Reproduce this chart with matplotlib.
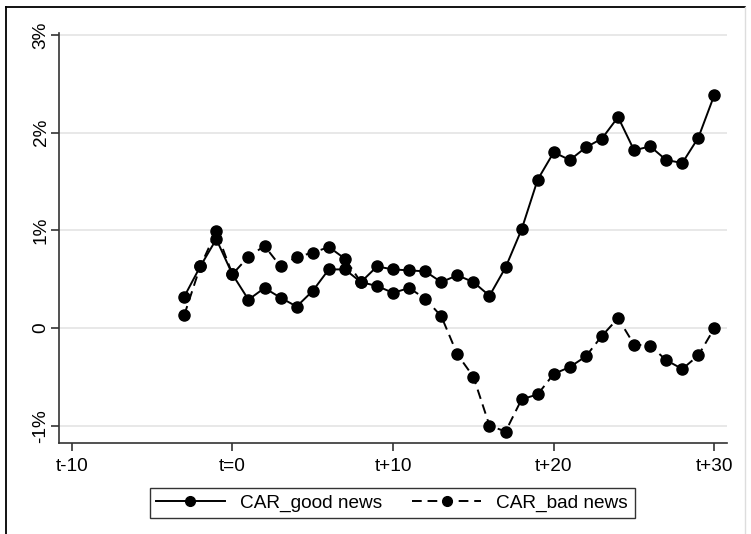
import matplotlib.pyplot as plt
from matplotlib.lines import Line2D

plt.rcParams['font.family'] = ['Liberation Sans', 'DejaVu Sans']

# event time and cumulative abnormal returns (in %)
t = list(range(-3, 31))
car_good = [0.32, 0.63, 0.91, 0.55, 0.29, 0.41, 0.31, 0.22, 0.38, 0.60,
            0.60, 0.47, 0.63, 0.60, 0.59, 0.58, 0.47, 0.54, 0.47, 0.33,
            0.62, 1.01, 1.52, 1.80, 1.72, 1.85, 1.94, 2.16, 1.82, 1.86,
            1.72, 1.69, 1.95, 2.39]
car_bad = [0.13, 0.63, 0.99, 0.55, 0.73, 0.84, 0.63, 0.73, 0.77, 0.83,
           0.71, 0.47, 0.43, 0.36, 0.41, 0.30, 0.12, -0.27, -0.50, -1.00,
           -1.06, -0.73, -0.68, -0.47, -0.40, -0.29, -0.08, 0.10, -0.17, -0.18,
           -0.33, -0.42, -0.28, 0.00]

xticks = [-10, 0, 10, 20, 30]
xlabels = ['t-10', 't=0', 't+10', 't+20', 't+30']
yticks = [-1, 0, 1, 2, 3]
ylabels = ['-1%', '0', '1%', '2%', '3%']

fig = plt.figure(figsize=(7.51, 5.34), dpi=100)
ax = fig.add_axes([0.079, 0.170, 0.8886, 0.768])

ax.plot(t, car_good, color='black', lw=1.4, marker='o', ms=8,
        label='CAR_good news')
ax.plot(t, car_bad, color='black', lw=1.4, marker='o', ms=8,
        dashes=(5, 3), label='CAR_bad news')

ax.set_xlim(-10.77, 30.76)
ax.set_ylim(-1.18, 3.02)
ax.set_xticks(xticks)
ax.set_xticklabels(xlabels)
ax.set_yticks(yticks)
ax.set_yticklabels(ylabels, rotation=90, va='center')

ax.grid(axis='y', color='#e8e8e8', lw=1.4)
ax.set_axisbelow(True)
for s in ['top', 'right']:
    ax.spines[s].set_visible(False)
for s in ['left', 'bottom']:
    ax.spines[s].set_color('#333333')
    ax.spines[s].set_linewidth(1.2)
ax.tick_params(labelsize=13.7, length=6, width=1.2, color='#333333', pad=5)
ax.tick_params(axis='y', pad=1)

leg = ax.legend(loc='center', bbox_to_anchor=(0.522, 0.058),
                bbox_transform=fig.transFigure, ncol=2, fontsize=13.7,
                frameon=True, fancybox=False, handlelength=3.6,
                columnspacing=1.6, borderpad=0.35, numpoints=1)
leg.get_frame().set_edgecolor('black')
leg.get_frame().set_linewidth(1.0)
for h in leg.legend_handles:
    h.set_markersize(7)

# outer border
fig.add_artist(Line2D([6 / 751, 6 / 751], [0, 527 / 534], color='black', lw=1.3))
fig.add_artist(Line2D([6 / 751, 745 / 751], [527 / 534, 527 / 534], color='black', lw=1.3))
fig.add_artist(Line2D([745 / 751, 745 / 751], [0, 527 / 534], color='#dddddd', lw=1.0))

fig.savefig('out.png', dpi=100)
